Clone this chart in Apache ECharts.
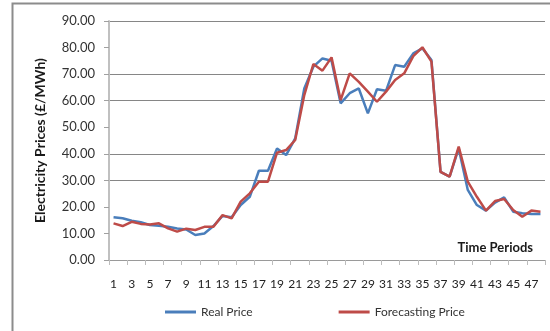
<!DOCTYPE html>
<html>
<head>
<meta charset="utf-8">
<script src="https://cdn.jsdelivr.net/npm/echarts@6/dist/echarts.min.js"></script>
<style>
  html, body { margin: 0; padding: 0; background: #fff; }
  #chart { width: 550px; height: 331px; }
</style>
</head>
<body>
<div id="chart"></div>
<script>
// Half-hourly periods of the day
const periods = Array.from({ length: 48 }, (_, i) => String(i + 1));

// Real electricity price (£/MWh)
const realPrice = [
  16.1, 15.7, 14.8, 14.2, 13.2, 12.9, 12.5, 11.9, 11.5, 9.4,
  10.0, 12.8, 16.6, 16.1, 20.7, 23.8, 33.6, 33.6, 42.0, 39.5,
  45.8, 64.6, 72.8, 75.9, 75.0, 59.0, 62.8, 64.6, 55.2, 64.3,
  63.7, 73.4, 72.8, 77.8, 79.7, 75.3, 33.2, 31.4, 42.0, 26.4,
  20.7, 18.6, 21.6, 23.6, 18.2, 17.6, 17.3, 17.3
];

// Forecast electricity price (£/MWh)
const forecastPrice = [
  13.8, 12.8, 14.4, 13.6, 13.4, 13.8, 11.9, 10.7, 11.8, 11.3,
  12.5, 12.5, 16.9, 15.7, 22.0, 25.1, 29.5, 29.5, 40.4, 41.4,
  45.2, 62.1, 73.8, 71.3, 76.3, 60.2, 70.3, 67.1, 63.4, 59.6,
  63.4, 67.8, 70.3, 76.8, 80.1, 74.7, 33.2, 31.4, 42.7, 29.5,
  23.8, 18.6, 22.2, 23.0, 18.8, 16.3, 18.6, 18.2
];

const seriesNames = ['Real Price', 'Forecasting Price'];

const FONT = 'Lato, "Open Sans", sans-serif';
const GRID = '#868686';
const NONE = 'rgba(0,0,0,0)';

const chart = echarts.init(document.getElementById('chart'), null, { renderer: 'canvas' });

chart.setOption({
  animation: false,
  backgroundColor: '#fff',
  textStyle: { fontFamily: FONT },
  grid: { left: 109, right: 5, top: 21, bottom: 71, containLabel: false },
  graphic: [
    {
      type: 'rect',
      shape: { x: 12.5, y: 3.5, width: 600, height: 400 },
      style: { fill: 'none', stroke: '#8c8c8c', lineWidth: 2 },
      silent: true,
      z: 0
    },
    {
      type: 'text',
      right: 17,
      top: 241,
      style: {
        text: 'Time Periods',
        font: 'bold 13px ' + FONT,
        fill: '#1a1a1a'
      }
    }
  ],
  legend: {
    data: seriesNames,
    bottom: 8,
    left: 160,
    itemWidth: 31,
    itemHeight: 3,
    itemGap: 86,
    icon: 'rect',
    textStyle: { fontFamily: FONT, fontSize: 12, color: '#333' }
  },
  xAxis: {
    type: 'category',
    data: periods,
    boundaryGap: true,
    axisLine: { lineStyle: { color: '#9a9a9a', width: 1 } },
    axisTick: { show: true, length: 5, lineStyle: { color: '#bdbdbd', width: 1 } },
    axisLabel: {
      interval: 1,
      margin: 18,
      fontSize: 12,
      color: '#222',
      fontFamily: FONT
    },
    splitLine: { show: false }
  },
  yAxis: {
    type: 'value',
    min: 0,
    max: 90,
    interval: 10,
    name: 'Electricity Prices (£/MWh)',
    nameLocation: 'middle',
    nameGap: 62,
    nameTextStyle: { fontFamily: FONT, fontSize: 14, fontWeight: 'bold', color: '#1a1a1a' },
    axisLine: { show: true, lineStyle: { color: '#c0c0c0', width: 2 } },
    axisTick: { show: true, length: 5, lineStyle: { color: '#a0a0a0' } },
    axisLabel: {
      margin: 14,
      fontSize: 13,
      color: '#333',
      fontFamily: FONT,
      formatter: v => v.toFixed(2)
    },
    splitLine: {
      show: true,
      lineStyle: {
        color: [GRID, NONE, NONE, GRID, GRID, NONE, GRID, GRID, NONE, GRID],
        width: 1
      }
    }
  },
  series: [
    {
      name: seriesNames[0],
      type: 'line',
      data: realPrice,
      symbol: 'none',
      lineStyle: { color: '#4a7ebb', width: 2.5 },
      itemStyle: { color: '#4a7ebb' },
      z: 2
    },
    {
      name: seriesNames[1],
      type: 'line',
      data: forecastPrice,
      symbol: 'none',
      lineStyle: { color: '#be4b48', width: 2.5 },
      itemStyle: { color: '#be4b48' },
      z: 3
    }
  ]
});
</script>
</body>
</html>
